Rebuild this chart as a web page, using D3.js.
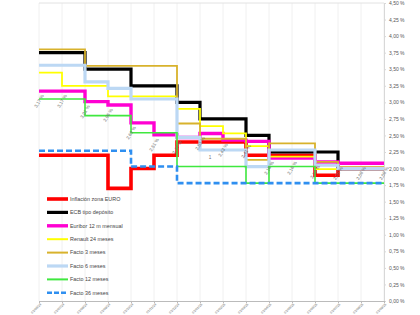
<!DOCTYPE html>
<html>
<head>
<meta charset="utf-8">
<style>
  body { margin: 0; background: #fff; font-family: "Liberation Sans", Arial, sans-serif; }
  .grid line { stroke: #f0f0f0; stroke-width: 1px; }
  .y-axis text { font-size: 5px; fill: #555; }
  .x-axis text { font-size: 3.4px; fill: #666; }
  .rate-label { font-size: 4.6px; fill: #6f6f6f; }
  .legend text { font-size: 5.4px; fill: #444; }
  .series { fill: none; }
</style>
</head>
<body>
<script src="https://cdn.jsdelivr.net/npm/d3@7"></script>
<script>
var width = 420,
    height = 315;

// fechas (eje x)
var dates = ["01/06/24","01/07/24","01/08/24","01/09/24","01/10/24","01/11/24","01/12/24","01/01/25",
             "01/02/25","01/03/25","01/04/25","01/05/25","01/06/25","01/07/25","01/08/25","01/09/25"];

var yTicks = [0, 0.25, 0.5, 0.75, 1, 1.25, 1.5, 1.75, 2, 2.25, 2.5, 2.75, 3, 3.25, 3.5, 3.75, 4, 4.25, 4.5];

// valores en %
var inflacion = [2.2, 2.2, 2.2, 1.7, 2.0, 2.2, 2.4, 2.4, 2.4, 2.2, 2.2, 2.2, 1.9, 2.0, 2.0, 2.0];
var ecb       = [3.75, 3.75, 3.50, 3.50, 3.25, 3.25, 3.00, 2.75, 2.75, 2.50, 2.25, 2.25, 2.25, 2.00, 2.00, 2.00];
var euribor   = [3.17, 3.17, 3.01, 2.96, 2.69, 2.51, 2.47, 2.53, 2.43, 2.41, 2.16, 2.16, 2.10, 2.08, 2.08, 2.08];
var renault24 = [3.45, 3.25, 3.25, 3.09, 3.09, 3.09, 2.90, 2.64, 2.53, 2.34, 2.18, 2.18, 1.99, 2.00, 2.00, 2.00];
var facto3    = [3.80, 3.80, 3.55, 3.55, 3.55, 3.55, 2.68, 2.45, 2.45, 2.13, 2.38, 2.38, 2.10, 2.02, 2.02, 2.02];
var facto6    = [3.56, 3.56, 3.31, 3.21, 3.05, 3.05, 2.47, 2.28, 2.28, 2.03, 2.28, 2.28, 2.05, 2.00, 2.00, 2.00];
var facto12   = [3.05, 3.05, 2.80, 2.80, 2.54, 2.54, 2.03, 2.03, 2.03, 1.78, 2.03, 2.03, 1.78, 1.78, 1.78, 1.78];
var facto36   = [2.27, 2.27, 2.27, 2.27, 2.03, 2.03, 1.78, 1.78, 1.78, 1.78, 1.78, 1.78, 1.78, 1.78, 1.78, 1.78];

var series = [
  {name: "Inflación zona EURO",  values: inflacion, color: "#ff0000", w: 3.6},
  {name: "ECB tipo depósito",    values: ecb,       color: "#000000", w: 3.2},
  {name: "Euribor 12 m mensual", values: euribor,   color: "#ff00d2", w: 3.4},
  {name: "Renault 24 meses",     values: renault24, color: "#ffff00", w: 1.8},
  {name: "Facto 3 meses",        values: facto3,    color: "#d8b22c", w: 1.8},
  {name: "Facto 6 meses",        values: facto6,    color: "#bcd8f4", w: 3.2},
  {name: "Facto 12 meses",       values: facto12,   color: "#3fe83f", w: 1.6},
  {name: "Facto 36 meses",       values: facto36,   color: "#2f8ff0", w: 2.6, dash: "6,3"}
];

var svg = d3.select("body").append("svg")
    .attr("width", width)
    .attr("height", height);

var x = d3.scalePoint().domain(dates).range([39, 384]);
var y = d3.scaleLinear().domain([0, 4.5]).range([301, 3]);

var fmt = function(v) { return d3.format(".2f")(v).replace(".", ",") + " %"; };

// rejilla vertical
svg.append("g").attr("class", "grid")
  .selectAll("line").data(dates).join("line")
    .attr("x1", function(d) { return x(d); })
    .attr("x2", function(d) { return x(d); })
    .attr("y1", y(4.5)).attr("y2", y(0));

// borde superior
svg.append("line")
    .attr("x1", x.range()[0]).attr("x2", x.range()[1])
    .attr("y1", y(4.5)).attr("y2", y(4.5))
    .style("stroke", "#e2e2e2");

// eje y a la derecha
var yAxis = svg.append("g").attr("class", "y-axis")
    .attr("transform", "translate(384,0)")
    .call(d3.axisRight(y).tickValues(yTicks).tickSize(2).tickPadding(3).tickFormat(fmt));
yAxis.select(".domain").style("stroke", "#d8d8d8");
yAxis.selectAll(".tick line").style("stroke", "#d8d8d8");

// eje x
var xAxis = svg.append("g").attr("class", "x-axis")
    .attr("transform", "translate(0,301)")
    .call(d3.axisBottom(x).tickSize(2).tickSizeOuter(0));
xAxis.select(".domain").style("stroke", "#bbb");
xAxis.selectAll(".tick line").style("stroke", "#bbb");
xAxis.selectAll(".tick text")
    .attr("text-anchor", "end")
    .attr("x", -1)
    .attr("y", 3)
    .attr("dy", "0.3em")
    .attr("transform", "rotate(-45)");

// líneas escalonadas
var line = d3.line()
    .x(function(d, i) { return x(dates[i]); })
    .y(function(d) { return y(d); })
    .curve(d3.curveStepAfter);

svg.append("g").selectAll("path").data(series).join("path")
    .attr("class", "series")
    .attr("d", function(s) { return line(s.values); })
    .style("stroke", function(s) { return s.color; })
    .style("stroke-width", function(s) { return s.w; })
    .style("stroke-dasharray", function(s) { return s.dash || null; });

// etiquetas del euribor
svg.append("g").selectAll("text").data(euribor).join("text")
    .attr("class", "rate-label")
    .attr("text-anchor", "middle")
    .attr("transform", function(d, i) {
      return "translate(" + x(dates[i]) + "," + (y(d) + 10) + ") rotate(-60)";
    })
    .attr("dy", "0.35em")
    .text(fmt);

svg.append("text")
    .attr("class", "rate-label")
    .attr("x", 210).attr("y", 159)
    .attr("text-anchor", "middle")
    .text("1");

// leyenda
var legend = svg.append("g").attr("class", "legend")
    .selectAll("g").data(series).join("g")
    .attr("transform", function(s, i) { return "translate(47," + (199 + i * 13.4) + ")"; });

legend.append("line")
    .attr("x1", 0).attr("x2", 21)
    .style("stroke", function(s) { return s.color; })
    .style("stroke-width", function(s) { return Math.max(s.w, 2); })
    .style("stroke-dasharray", function(s) { return s.dash ? "5,2" : null; });

legend.append("text")
    .attr("x", 23)
    .attr("dy", "0.35em")
    .text(function(s) { return s.name; });
</script>
</body>
</html>
